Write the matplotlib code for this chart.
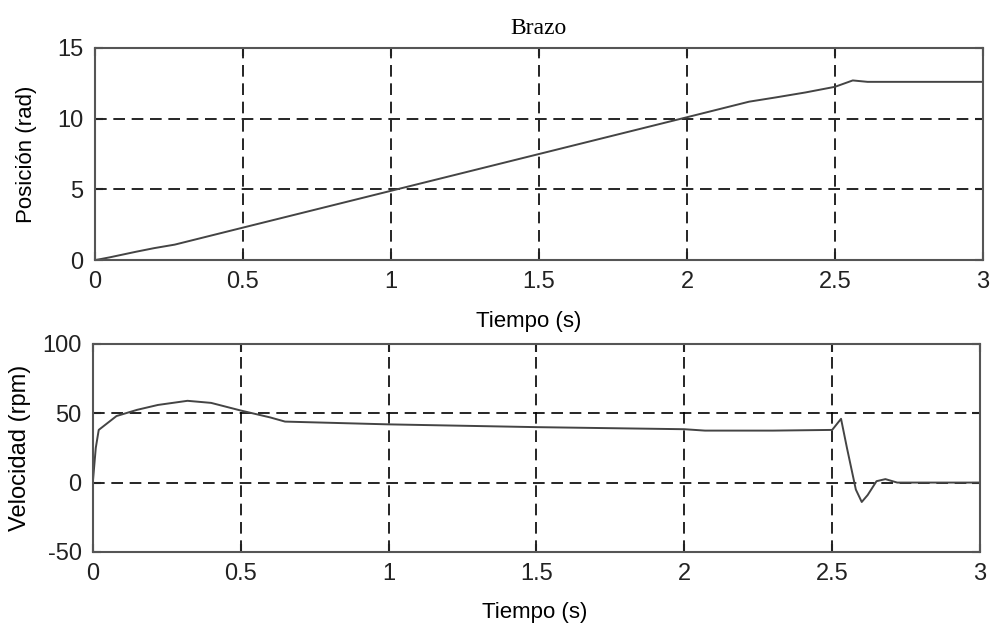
import numpy as np
import matplotlib
matplotlib.use('Agg')
import matplotlib.pyplot as plt

# Brazo: posicion y velocidad frente al tiempo
t_pos = [0, 0.05, 0.14, 0.2, 0.27, 0.5, 0.75, 1.0, 1.25, 1.5, 1.75, 2.0,
         2.21, 2.3, 2.4, 2.5, 2.56, 2.61, 3.0]
posicion = [0, 0.2, 0.6, 0.85, 1.1, 2.3, 3.6, 4.9, 6.2, 7.5, 8.8, 10.1,
            11.2, 11.5, 11.85, 12.25, 12.7, 12.6, 12.6]

t_vel = [0, 0.01, 0.02, 0.08, 0.15, 0.22, 0.32, 0.4, 0.5, 0.6, 0.65, 1.0,
         1.5, 2.0, 2.07, 2.3, 2.5, 2.53, 2.55, 2.58, 2.6, 2.62, 2.65, 2.68,
         2.72, 3.0]
velocidad = [0, 25, 38, 48, 52.5, 56, 59, 57.5, 52, 47, 44, 42,
             40, 38.5, 37.5, 37.5, 38, 46, 25, -5, -14, -9, 1, 2.5,
             0, 0]

x_ticks = [0, 0.5, 1, 1.5, 2, 2.5, 3]
x_labels = ['0', '0.5', '1', '1.5', '2', '2.5', '3']
pos_ticks = [0, 5, 10, 15]
vel_ticks = [-50, 0, 50, 100]

sans = 'Liberation Sans'
serif = 'Liberation Serif'

fig = plt.figure(figsize=(9.98, 6.3), dpi=100)
ax1 = fig.add_axes([0.095, 0.587, 0.89, 0.337])
ax2 = fig.add_axes([0.093, 0.124, 0.889, 0.330])

def estilo(ax, yticks):
    ax.set_xlim(0, 3)
    ax.set_xticks(x_ticks)
    ax.set_xticklabels(x_labels, family=sans, fontsize=17)
    ax.set_yticks(yticks)
    ax.set_yticklabels([str(v) for v in yticks], family=sans, fontsize=17)
    ax.grid(True, color='k', linestyle=(0, (7, 4)), linewidth=1.2)
    ax.tick_params(direction='in', length=6, width=1.5, top=True, right=True,
                   pad=8, colors='#222')
    for s in ax.spines.values():
        s.set_color('#555')
        s.set_linewidth(1.5)

ax1.plot(t_pos, posicion, color='#444', linewidth=1.4)
ax1.set_ylim(0, 15)
estilo(ax1, pos_ticks)
ax1.set_title('Brazo', family=serif, fontsize=17, pad=10)
ax1.set_ylabel('Posición (rad)', family=sans, fontsize=16)
ax1.set_xlabel('Tiempo (s)', family=sans, fontsize=16)
ax1.xaxis.set_label_coords(0.488, -0.24)
ax1.yaxis.set_label_coords(-0.065, 0.5)

ax2.plot(t_vel, velocidad, color='#444', linewidth=1.4)
ax2.set_ylim(-50, 100)
estilo(ax2, vel_ticks)
ax2.set_ylabel('Velocidad (rpm)', family=sans, fontsize=17)
ax2.set_xlabel('Tiempo (s)', family=sans, fontsize=16)
ax2.xaxis.set_label_coords(0.498, -0.24)
ax2.yaxis.set_label_coords(-0.07, 0.5)

fig.savefig('out.png', dpi=100)
